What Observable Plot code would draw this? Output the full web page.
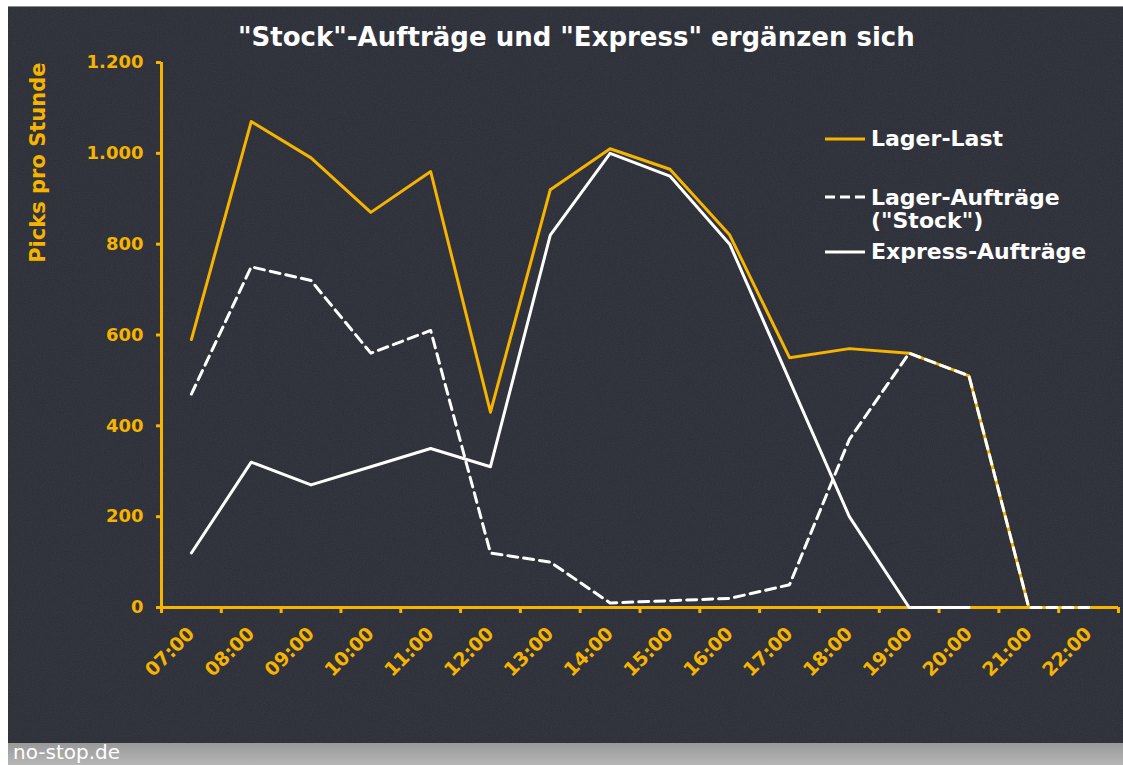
<!DOCTYPE html>
<html>
<head>
<meta charset="utf-8">
<script src="https://cdn.jsdelivr.net/npm/d3@7"></script>
<script src="https://cdn.jsdelivr.net/npm/@observablehq/plot@0.6"></script>
<style>
  html, body { margin: 0; padding: 0; background: #ffffff; width: 1123px; height: 765px; overflow: hidden; }
  #panel { position: absolute; left: 8px; top: 6px; width: 1115px; height: 737px; background: #2b2e37; border-top: 1px solid #8a8a8a; box-sizing: border-box; overflow: hidden; }
  #panel svg { position: absolute; left: 0; top: 0; }
  #footer { position: absolute; left: 8px; top: 743px; width: 1115px; height: 22px; background: linear-gradient(#999999, #b6b6b6); }
  #footer span { position: absolute; left: 5px; top: -3px; font-family: "DejaVu Sans", sans-serif; font-size: 20px; color: #ffffff; }
  #chart { position: absolute; left: 0; top: 0; }
  #title { position: absolute; left: 238px; top: 22px; white-space: nowrap; font-family: "DejaVu Sans", sans-serif; font-weight: bold; font-size: 26px; line-height: 30px; color: #ffffff; }
  #legend { position: absolute; left: 825px; top: 0; font-family: "DejaVu Sans", sans-serif; font-weight: bold; font-size: 22px; color: #ffffff; }
  .item { position: absolute; left: 0; white-space: nowrap; }
  .item svg { position: absolute; left: 0; top: 0; }
  .item div { position: absolute; left: 46px; top: 0; line-height: 22px; }
</style>
</head>
<body>
<div id="panel">
  <svg width="1115" height="737">
    <filter id="noise"><feTurbulence type="fractalNoise" baseFrequency="0.9" numOctaves="2" seed="3"/><feColorMatrix type="saturate" values="0"/><feComponentTransfer><feFuncA type="linear" slope="0.08"/></feComponentTransfer></filter>
    <rect width="1115" height="737" filter="url(#noise)"/>
  </svg>
</div>
<div id="footer"><span>no-stop.de</span></div>
<div id="chart"></div>
<div id="title"></div>
<div id="legend"></div>
<script>
// ---- data ----
const hours = ["07:00","08:00","09:00","10:00","11:00","12:00","13:00","14:00","15:00","16:00","17:00","18:00","19:00","20:00","21:00","22:00"];
const lagerLast = [590, 1070, 990, 870, 960, 430, 920, 1010, 965, 820, 550, 570, 560, 510, 0, 0];
const lagerAuftraege = [470, 750, 720, 560, 610, 120, 100, 10, 15, 20, 50, 370, 560, 510, 0, 0];
const expressAuftraege = [120, 320, 270, 310, 350, 310, 820, 1000, 950, 800, 500, 200, 0, 0, null, null];
const seriesNames = ["Lager-Last", "Lager-Aufträge\n(\"Stock\")", "Express-Aufträge"];
const yTicks = [0, 200, 400, 600, 800, 1000, 1200];
const titleText = "\"Stock\"-Aufträge und \"Express\" ergänzen sich";
const yLabel = "Picks pro Stunde";

// ---- styling ----
const YELLOW = "#f6b300";
const WHITE = "#ffffff";
const FONT = "DejaVu Sans, sans-serif";

const idx = hours.map((_, i) => i);
const rows = (vals) => vals.map((v, i) => ({x: i, y: v}));
const edges = d3.range(hours.length + 1).map(i => i - 0.5);
const deFormat = d3.formatLocale({decimal: ",", thousands: ".", grouping: [3], currency: ["", " €"]}).format(",");

const chart = Plot.plot({
  width: 1123,
  height: 743,
  marginLeft: 161,
  marginRight: 5,
  marginTop: 62,
  marginBottom: 136,
  style: {background: "transparent", fontFamily: FONT, fontWeight: "bold", color: YELLOW},
  x: {type: "linear", domain: [-0.5, hours.length - 0.5]},
  y: {domain: [0, 1200]},
  marks: [
    Plot.axisY({ticks: yTicks, tickFormat: deFormat, tickSize: 5, tickPadding: 13, stroke: YELLOW, strokeWidth: 3, fill: YELLOW, fontSize: 18, fontWeight: "bold", label: null}),
    Plot.axisX({ticks: edges, tickFormat: () => "", tickSize: 6, stroke: YELLOW, strokeWidth: 3, label: null}),
    Plot.axisX({ticks: idx, tickFormat: i => hours[i], tickSize: 0, tickPadding: 23, tickRotate: -45, fill: YELLOW, fontSize: 19, fontWeight: "bold", label: null}),
    Plot.ruleX([-0.5], {y1: 0, y2: 1200, stroke: YELLOW, strokeWidth: 3}),
    Plot.ruleY([0], {x1: -0.5, x2: hours.length - 0.5, stroke: YELLOW, strokeWidth: 3}),
    Plot.text([yLabel], {frameAnchor: "top-left", rotate: -90, textAnchor: "end", dx: -131, dy: 0, fill: YELLOW, fontSize: 21, fontWeight: "bold"}),
    Plot.line(rows(lagerLast), {x: "x", y: "y", stroke: YELLOW, strokeWidth: 3}),
    Plot.line(rows(lagerAuftraege), {x: "x", y: "y", stroke: WHITE, strokeWidth: 3, strokeDasharray: "10,6"}),
    Plot.line(rows(expressAuftraege), {x: "x", y: "y", stroke: WHITE, strokeWidth: 3})
  ]
});
document.getElementById("chart").appendChild(chart);
document.getElementById("title").textContent = titleText;

// ---- legend ----
const legendItems = [
  {name: seriesNames[0], color: YELLOW, dash: null, top: 128, lh: 22},
  {name: seriesNames[1], color: WHITE, dash: "10,5", top: 186, lh: 23},
  {name: seriesNames[2], color: WHITE, dash: null, top: 241, lh: 22}
];
const legend = document.getElementById("legend");
for (const it of legendItems) {
  const d = document.createElement("div");
  d.className = "item";
  d.style.top = it.top + "px";
  d.innerHTML = `<svg width="40" height="22"><line x1="0" x2="40" y1="11" y2="11" stroke="${it.color}" stroke-width="3" ${it.dash ? `stroke-dasharray="${it.dash}"` : ""}/></svg>`;
  const t = document.createElement("div");
  t.style.lineHeight = it.lh + "px";
  t.innerHTML = it.name.split("\n").map(s => s.replace(/</g, "&lt;")).join("<br>");
  d.appendChild(t);
  legend.appendChild(d);
}
</script>
</body>
</html>
